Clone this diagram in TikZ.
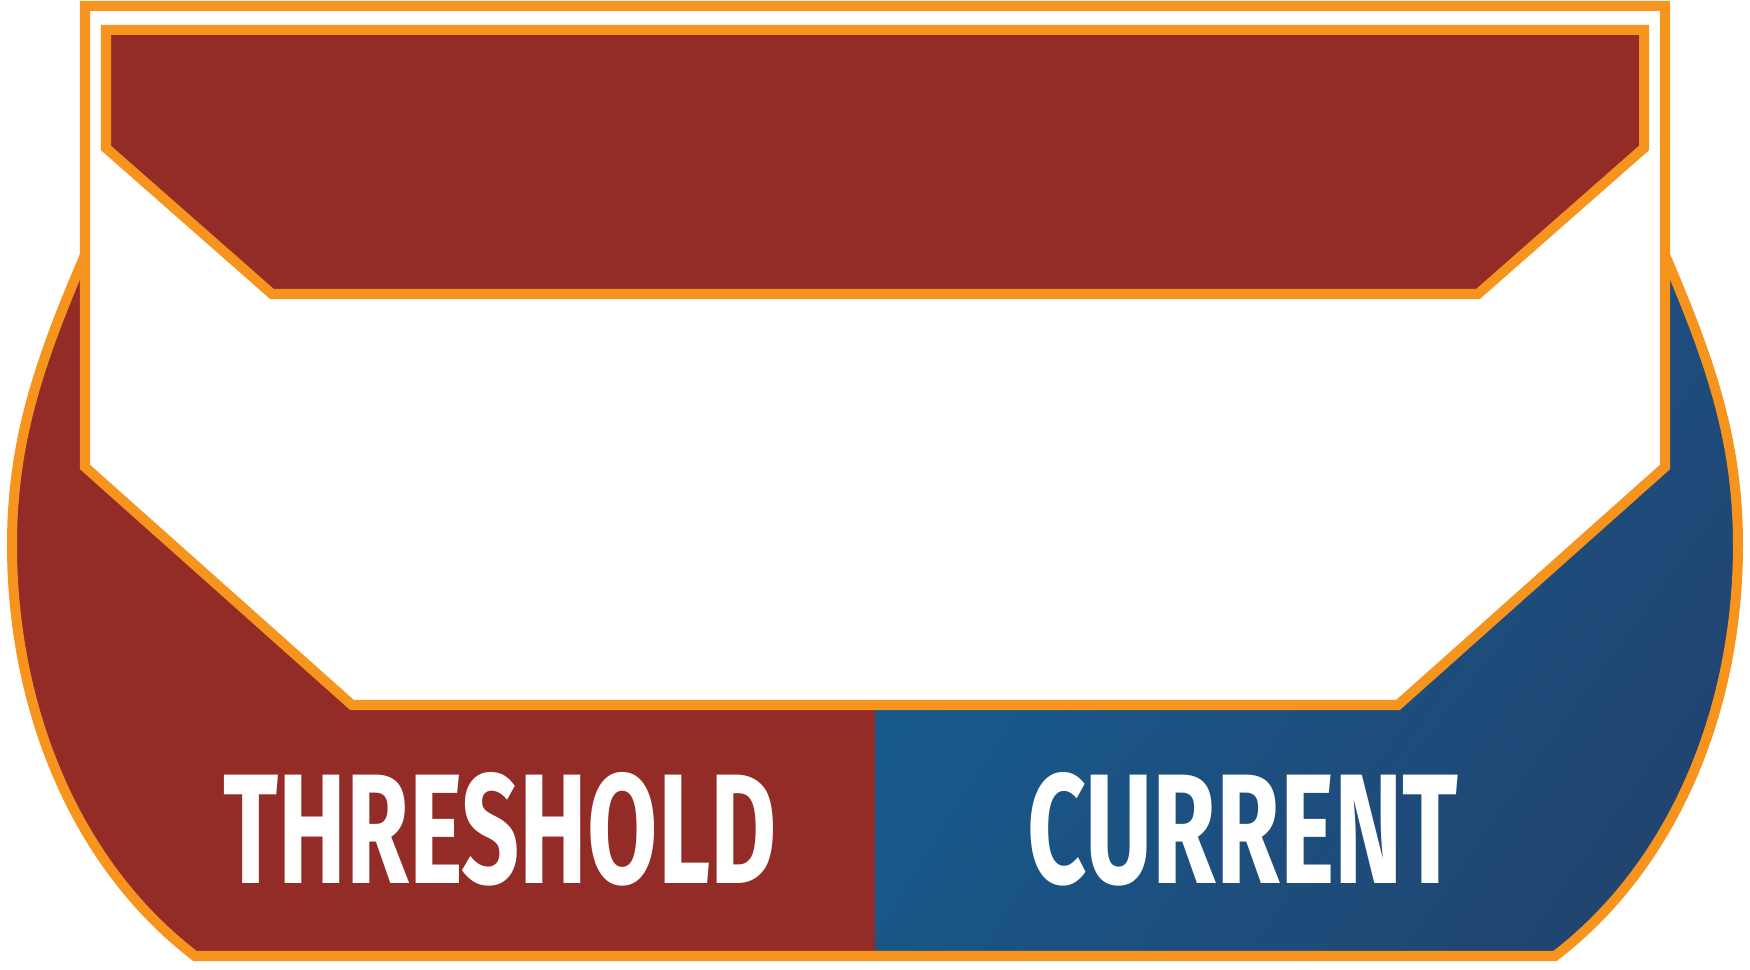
\documentclass[tikz,border=0pt]{standalone}
\usepackage{fontspec}
\setmainfont{Fira Sans}
\usepackage{graphicx}
\usetikzlibrary{shadings}
\definecolor{rust}{HTML}{932C27}
\definecolor{amber}{HTML}{F7941D}
\definecolor{steelA}{HTML}{10629A}
\definecolor{steelB}{HTML}{1E4D7D}
\definecolor{steelC}{HTML}{195686}
\definecolor{steelD}{HTML}{243F6A}
\newcommand{\badgeword}[2]{\resizebox{#1}{1.11cm}{\bfseries #2}}

\begin{document}
\begin{tikzpicture}[x=0.01cm,y=-0.01cm,
  rim/.style={draw=amber,line width=1mm},
  word/.style={text=white,inner sep=0pt}]
  \useasboundingbox (0,0) rectangle (1750,970);
  % shield body, brown left and blue right
  \begin{scope}
    \clip (85,255) .. controls (40,360) and (12,440) .. (12,545)
      .. controls (12,700) and (70,860) .. (195,956) -- (1555,956)
      .. controls (1680,860) and (1738,700) .. (1738,545)
      .. controls (1738,440) and (1710,360) .. (1665,255) -- cycle;
    \fill[rust] (0,200) rectangle (875,970);
    \shade[upper left=steelA,upper right=steelB,lower left=steelC,lower right=steelD]
      (875,230) rectangle (1750,970);
  \end{scope}
  \draw[rim] (85,255) .. controls (40,360) and (12,440) .. (12,545)
    .. controls (12,700) and (70,860) .. (195,956) -- (1555,956)
    .. controls (1680,860) and (1738,700) .. (1738,545)
    .. controls (1738,440) and (1710,360) .. (1665,255);
  % white panel and top banner
  \filldraw[fill=white,rim] (85,6) -- (1665,6) -- (1665,467) -- (1398,705)
    -- (352,705) -- (85,467) -- cycle;
  \filldraw[fill=rust,rim] (106,30) -- (1644,30) -- (1644,148) -- (1478,294)
    -- (272,294) -- (106,148) -- cycle;
  % labels
  \node[word] (threshold) at (500,829) {\badgeword{5.53cm}{THRESHOLD}};
  \node[word] (current) at (1243,829) {\badgeword{4.31cm}{CURRENT}};
\end{tikzpicture}
\end{document}
